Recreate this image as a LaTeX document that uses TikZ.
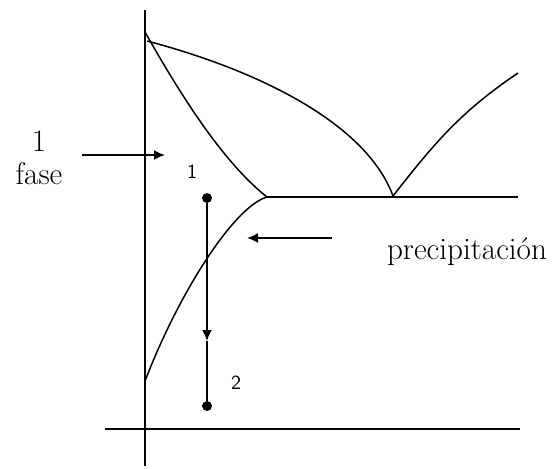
\documentclass[tikz,border=0pt]{standalone}
\usepackage{tikz}
\usetikzlibrary{arrows.meta,positioning}

\begin{document}
\begin{tikzpicture}[
  x=0.5pt,y=-0.5pt,
  lbl/.style={font=\fontsize{15.6}{16.5}\selectfont,align=center,inner sep=0pt},
  num/.style={font=\sffamily\fontsize{10}{11}\selectfont,inner sep=0pt},
  dot/.style={circle,fill=black,inner sep=0pt,minimum size=5pt},
  axis/.style={line width=1pt},
  curve/.style={line width=0.75pt},
  arr/.style={-{Latex[length=5.5pt,width=5pt]},line width=0.9pt}
]
\useasboundingbox (0,0) rectangle (555,468);
% axes
\coordinate (yt) at (145,10);
\coordinate (yb) at (145,466);
\coordinate (xl) at (105,429);
\coordinate (xr) at (520,429);
\draw[axis] (yt) -- (yb);
\draw[axis] (xl) -- (xr);
% phase boundaries
\coordinate (ta) at (145,32);
\coordinate (tl) at (147,41);
\coordinate (lim) at (267,197);
\coordinate (eu) at (393,196);
\coordinate (er) at (518,197);
\coordinate (rt) at (518,73);
\coordinate (sv) at (145,381);
\draw[curve] (tl) .. controls (250,68) and (365,120) .. (eu);
\draw[curve] (ta) .. controls (175,85) and (220,160) .. (lim);
\draw[curve] (eu) to[out=52,in=-146] (rt);
\draw[axis] (lim) -- (er);
\draw[curve] (lim) .. controls (235,206) and (180,290) .. (sv);
% cooling path
\node[dot] (p1) at (207,198) {};
\node[dot] (p2) at (207,406) {};
\coordinate (mid) at (207,341);
\draw[arr] (p1) -- (mid);
\draw[curve] (mid) -- (p2);
\node[num] (n1) at (192,172) {1};
\node[num] (n2) at (236,383) {2};
% labels
\node[lbl] (fase) at (39,158) {1\\fase};
\coordinate (fs) at (82,155);
\coordinate (fe) at (165,155);
\draw[arr] (fs) -- (fe);
\node[lbl] (prec) at (467,252) {precipitación};
\coordinate (ps) at (332,238);
\coordinate (pe) at (247,238);
\draw[arr] (ps) -- (pe);
\end{tikzpicture}
\end{document}
